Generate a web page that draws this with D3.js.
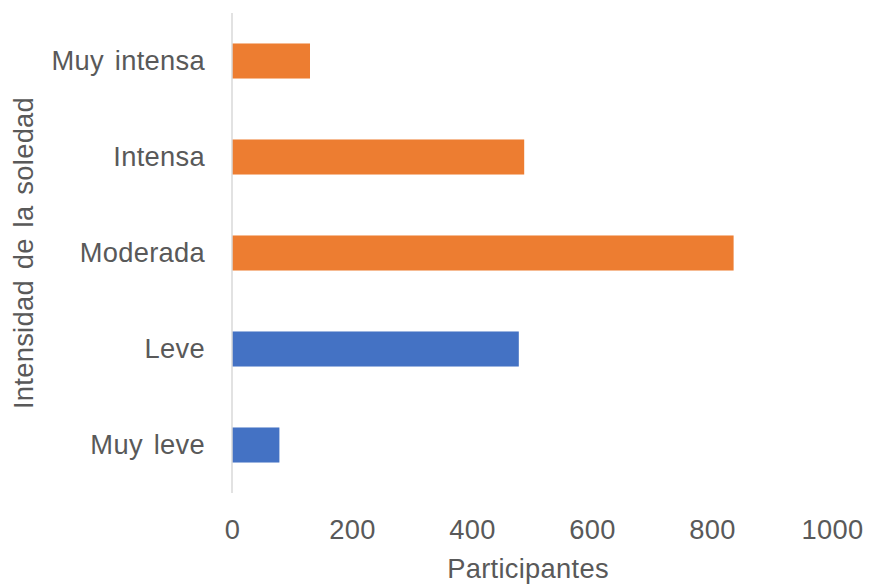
<!DOCTYPE html>
<html>
  <head>
    <script src="https://d3js.org/d3.v7.min.js"></script>
    <style>
      body { margin: 0; background: #fff; }
      text { font-family: "Liberation Sans", Arial, sans-serif; fill: #595959; word-spacing: 3px; letter-spacing: 0.3px; }
    </style>
  </head>
  <body>
    <svg width="869" height="586"></svg>
    <script>
      // data
      var categories = ["Muy intensa", "Intensa", "Moderada", "Leve", "Muy leve"];
      var values = [130, 487, 836, 478, 79];
      var barColors = ["#ED7D31", "#ED7D31", "#ED7D31", "#4472C4", "#4472C4"];
      var xTicks = [0, 200, 400, 600, 800, 1000];

      var svg = d3.select("svg");
      var plotLeft = 232, plotRight = 832, plotTop = 13, plotBottom = 493;
      var fontSize = "27.3px";

      var xScale = d3.scaleLinear().domain([0, 1000]).range([plotLeft, plotRight]);
      var yScale = d3.scaleBand().domain(categories).range([plotTop, plotBottom])
        .paddingInner(0.635).paddingOuter(0.3175);

      // bars
      svg.append("g")
        .selectAll("rect")
        .data(categories)
        .enter()
        .append("rect")
        .attr("x", xScale(0))
        .attr("y", function (d) { return yScale(d); })
        .attr("width", function (d, i) { return xScale(values[i]) - xScale(0); })
        .attr("height", yScale.bandwidth())
        .style("fill", function (d, i) { return barColors[i]; });

      // vertical axis line
      svg.append("line")
        .attr("x1", xScale(0)).attr("x2", xScale(0))
        .attr("y1", plotTop).attr("y2", plotBottom)
        .style("stroke", "#D9D9D9")
        .style("stroke-width", 1.5);

      // x tick labels
      var xAxis = svg.append("g")
        .attr("transform", "translate(0," + plotBottom + ")")
        .call(d3.axisBottom(xScale).tickValues(xTicks).tickFormat(d3.format("d"))
          .tickSize(0).tickPadding(27));
      xAxis.select(".domain").remove();
      xAxis.selectAll("text")
        .style("font-size", fontSize)
        .style("fill", "#595959")
        .style("font-family", "Liberation Sans, Arial, sans-serif");

      // y category labels
      var yAxis = svg.append("g")
        .attr("transform", "translate(" + xScale(0) + ",0)")
        .call(d3.axisLeft(yScale).tickSize(0).tickPadding(27));
      yAxis.select(".domain").remove();
      yAxis.selectAll("text")
        .style("font-size", fontSize)
        .style("fill", "#595959")
        .style("font-family", "Liberation Sans, Arial, sans-serif");

      // x title
      svg.append("text")
        .attr("x", 528)
        .attr("y", 578)
        .attr("text-anchor", "middle")
        .style("font-size", fontSize)
        .text("Participantes");

      // y title
      svg.append("text")
        .attr("transform", "translate(33," + (plotTop + plotBottom) / 2 + ")rotate(-90)")
        .attr("text-anchor", "middle")
        .style("font-size", fontSize)
        .text("Intensidad de la soledad");
    </script>
  </body>
</html>
